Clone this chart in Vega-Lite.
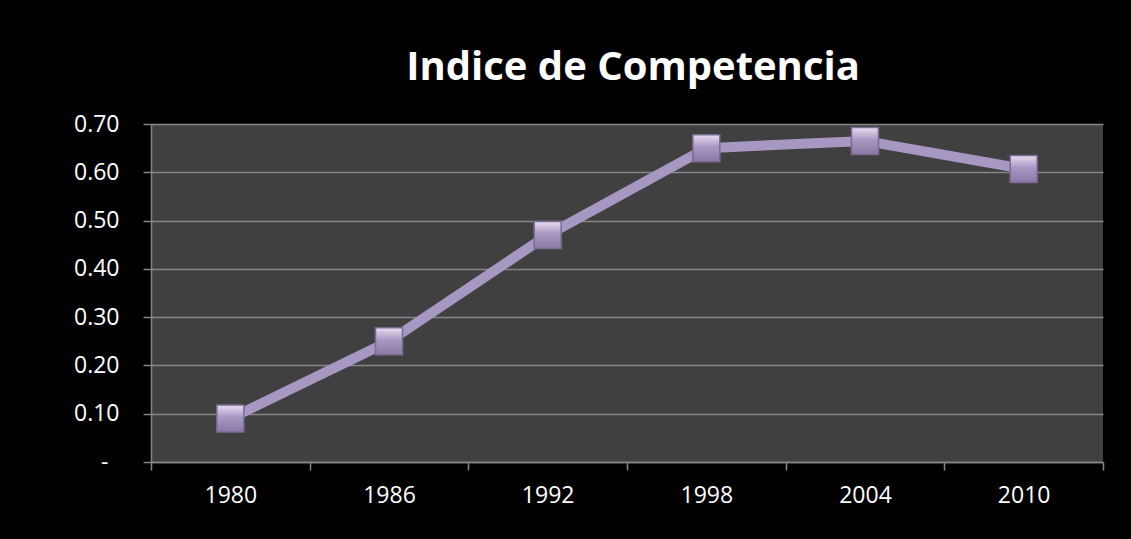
{
  "$schema": "https://vega.github.io/schema/vega-lite/v6.json",
  "width": 952,
  "height": 338,
  "autosize": {"type": "none"},
  "padding": {"left": 151, "top": 124, "right": 28, "bottom": 77},
  "background": "#000000",
  "title": {
    "text": "Indice de Competencia",
    "font": "Open Sans",
    "fontSize": 40,
    "fontWeight": "bold",
    "color": "#FFFFFF",
    "anchor": "middle",
    "baseline": "alphabetic",
    "offset": -7,
    "dx": 6
  },
  "config": {
    "view": {"fill": "#404040", "stroke": null},
    "axis": {
      "labelFont": "Open Sans",
      "labelFontSize": 23,
      "labelColor": "#FFFFFF",
      "domainColor": "#868686",
      "tickColor": "#868686",
      "gridColor": "#868686",
      "domainWidth": 1.5,
      "tickWidth": 1.5,
      "gridWidth": 1.5,
      "title": null
    }
  },
  "data": {
    "values": [
      {"year": "1980", "value": 0.09},
      {"year": "1986", "value": 0.25},
      {"year": "1992", "value": 0.47},
      {"year": "1998", "value": 0.65},
      {"year": "2004", "value": 0.665},
      {"year": "2010", "value": 0.607}
    ]
  },
  "encoding": {
    "x": {
      "field": "year",
      "type": "ordinal",
      "scale": {"paddingInner": 0, "paddingOuter": 0},
      "axis": {
        "labelAngle": 0,
        "tickBand": "extent",
        "tickSize": 8,
        "labelPadding": 14,
        "grid": false
      }
    },
    "y": {
      "field": "value",
      "type": "quantitative",
      "scale": {"domain": [0, 0.7], "nice": false},
      "axis": {
        "values": [0, 0.1, 0.2, 0.3, 0.4, 0.5, 0.6, 0.7],
        "labelExpr": "datum.value == 0 ? '-' : format(datum.value, '.2f')",
        "tickSize": 8,
        "labelPadding": {"condition": {"test": "datum.value == 0", "value": 35}, "value": 24},
        "grid": true
      }
    }
  },
  "layer": [
    {
      "mark": {"type": "line", "color": "#A698C2", "strokeWidth": 10}
    },
    {
      "mark": {
        "type": "point",
        "shape": "square",
        "size": 729,
        "filled": true,
        "opacity": 1,
        "fill": {
          "gradient": "linear",
          "x1": 0, "y1": 0, "x2": 0, "y2": 1,
          "stops": [
            {"offset": 0, "color": "#EADCF2"},
            {"offset": 0.45, "color": "#A898C4"},
            {"offset": 1, "color": "#8A79A6"}
          ]
        },
        "stroke": "#7A6B90",
        "strokeWidth": 1.5
      }
    }
  ]
}
